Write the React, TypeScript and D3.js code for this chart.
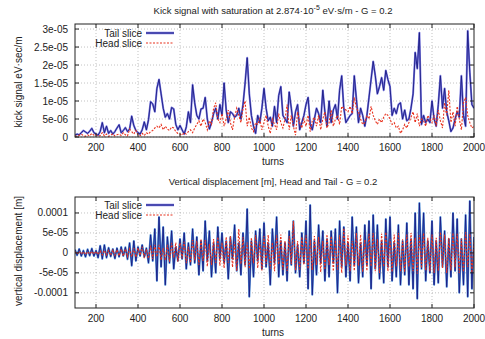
import React, { useEffect, useRef } from 'react';
import * as d3 from 'd3';

// turns sampled every 10 from 100 to 2000
const turns = d3.range(100, 2001, 10);

// kick signal, units of 1e-6 eV·s/m
const tailKick = [
  0.5, 0.8, 0.6, 1.2, 1.8, 1.4, 1.0, 1.6, 2.4, 1.2,
  0.8, 0.5, 1.5, 4.0, 1.2, 3.0, 1.0, 1.8, 0.8, 1.5,
  2.5, 3.4, 1.2, 1.8, 2.6, 1.5, 2.2, 5.8, 3.2, 1.8,
  1.2, 0.8, 2.0, 4.2, 2.0, 4.8, 9.8, 9.2, 7.0, 13.5,
  16.0, 12.0, 8.0, 5.5, 6.5, 5.0, 8.2, 7.8, 3.5, 2.0,
  3.2, 2.0, 0.8, 2.8, 7.0, 4.0, 14.5, 9.5, 6.0, 5.0,
  7.8, 8.0, 11.0, 5.0, 2.2, 4.0, 6.5, 8.0, 5.0, 9.0,
  6.0, 15.0, 7.5, 4.0, 7.0, 6.5, 5.5, 6.0, 8.0, 5.0,
  9.0, 15.0, 22.0, 12.0, 6.0, 3.0, 1.0, 6.0, 4.0, 8.0,
  13.5, 8.0, 4.5, 5.5, 3.0, 8.5, 4.0, 11.5, 14.0, 6.0,
  5.0, 4.0, 12.5, 8.0, 3.0, 7.0, 9.0, 2.0, 4.0, 6.0,
  9.0, 11.0, 3.5, 2.0, 5.0, 8.0, 6.5, 4.0, 13.0, 7.0,
  3.0, 10.0, 4.0, 7.5, 9.0, 5.0, 13.0, 17.0, 8.0, 4.0,
  5.0, 6.0, 6.5, 17.0, 10.5, 4.0, 8.0, 6.0, 3.0, 6.0,
  11.0, 16.0, 21.0, 17.0, 12.0, 14.0, 16.5, 13.0, 18.5, 16.0,
  14.0, 6.0, 8.0, 6.5, 9.0, 9.5, 5.0, 7.5, 4.5, 5.0,
  8.0, 12.0, 23.5, 19.0, 29.0, 3.5, 6.0, 4.0, 5.0, 4.0,
  10.0, 5.0, 3.0, 9.0, 17.0, 8.0, 13.5, 7.0, 4.5, 1.5,
  2.5, 5.0, 7.0, 5.5, 17.0, 6.0, 3.0, 29.5, 18.0, 9.0,
  8.0,
];

const headKick = [
  0.3, 0.2, 0.5, 0.8, 0.4, 0.2, 0.6, 0.3, 1.0, 0.5,
  0.6, 0.2, 0.4, 1.2, 0.3, 0.8, 0.2, 0.5, 0.9, 0.3,
  0.6, 0.8, 0.4, 1.2, 0.6, 0.3, 2.2, 1.5, 0.8, 1.8,
  0.6, 0.3, 1.0, 0.4, 1.2, 0.8, 1.5, 1.8, 2.5, 3.0,
  2.5, 3.5, 2.0, 3.0, 2.2, 1.8, 2.8, 2.5, 1.5, 1.0,
  0.8, 0.5, 1.2, 0.8, 1.5, 2.0, 1.2, 2.5, 3.5, 4.5,
  3.0, 5.0, 4.0, 2.0, 4.5, 3.5, 8.0, 9.5, 5.0, 4.0,
  6.5, 3.0, 5.0, 7.5, 4.0, 2.0, 5.5, 8.0, 6.0, 4.0,
  8.0, 10.0, 3.0, 5.5, 2.5, 1.5, 4.0, 3.5, 5.0, 2.0,
  4.0, 6.0, 3.0, 1.0, 5.0, 3.5, 2.0, 6.5, 4.0, 2.5,
  5.0, 9.0, 2.0, 6.0, 3.0, 0.5, 7.0, 4.0, 2.5, 5.0,
  3.0, 6.0, 1.5, 4.5, 5.5, 3.0, 6.0, 2.0, 5.0, 7.0,
  2.5, 4.0, 7.5, 3.0, 5.0, 6.0, 3.5, 8.5, 8.0, 7.5,
  7.0, 8.5, 6.5, 11.0, 8.0, 7.0, 5.0, 3.5, 4.0, 6.0,
  5.0, 8.5, 6.0, 4.5, 3.5, 5.0, 4.0, 5.5, 6.5, 6.0,
  5.0, 3.5, 4.0, 2.5, 3.0, 1.0, 2.0, 3.5, 2.5, 4.0,
  5.5, 7.0, 4.0, 6.5, 3.0, 5.0, 4.5, 3.0, 6.0, 5.0,
  4.0, 6.0, 3.0, 7.5, 4.5, 2.5, 9.5, 6.0, 13.0, 4.0,
  7.0, 3.0, 8.5, 5.0, 2.0, 9.5, 11.0, 6.0, 4.0, 2.5,
  3.0,
];

// vertical displacement, units of 1e-5 m
const tailDisp = [
  0.8, -0.6, 1.0, -0.8, 0.6, -1.0, 0.9, -0.7, 1.1, -0.8,
  0.6, -1.2, 1.8, -1.5, 2.0, -1.2, 1.3, -0.9, 1.0, -1.4,
  1.2, -1.0, 1.5, -0.8, 1.4, -1.6, 2.5, -3.2, 3.0, -2.0,
  1.5, -0.8, 2.0, -1.0, 1.2, -2.5, 4.5, -2.0, 6.0, -7.0,
  9.0, -3.5, 6.5, -8.0, 4.0, -2.5, 5.5, -4.0, 1.5, -2.0,
  3.5, -1.5, 5.0, -4.0, 2.5, -3.0, 6.0, -2.5, 4.0, -5.5,
  3.0, -4.5, 8.0, -2.0, 5.5, -6.0, 2.5, -5.0, 6.5, -1.5,
  5.0, -2.5, 3.0, -6.5, 4.0, -1.5, 7.0, -4.5, 2.5, -5.5,
  5.0, -3.0, 11.0, -11.0, 3.0, -6.0, 5.5, -2.0, 6.0, -4.0,
  7.5, -3.5, 2.5, -8.0, 6.0, -2.5, 9.0, -6.0, 3.0, -5.5,
  2.5, -7.0, 5.5, -3.0, 8.0, -5.0, 2.0, -6.0, 5.0, -2.5,
  8.0, -9.0, 12.0, -10.5, 3.0, -5.5, 7.0, -2.5, 5.5, -7.0,
  3.5, -6.0, 5.5, -2.5, 6.0, -10.0, 8.0, -3.5, 6.5, -6.0,
  2.5, -7.0, 9.0, -3.0, 6.5, -7.5, 2.5, -6.0, 7.0, -3.0,
  8.0, -9.0, 9.5, -4.0, 7.0, -6.5, 3.0, -7.5, 8.5, -3.5,
  9.0, -7.0, 2.5, -6.0, 7.0, -8.0, 3.0, -5.5, 7.5, -8.0,
  3.5, -9.0, 10.0, -11.5, 12.5, -4.0, 10.0, -7.0, 3.0, -5.0,
  8.0, -8.0, 3.0, -7.5, 9.0, -3.5, 5.5, -8.5, 3.5, -6.0,
  10.0, -4.5, 8.5, -10.0, 3.5, -8.0, 9.5, -11.0, 13.0, -9.0,
  4.0,
];

const headDisp = [
  0.3, -0.3, 0.4, -0.3, 0.3, -0.4, 0.3, -0.3, 0.4, -0.3,
  0.4, -0.4, 0.5, -0.5, 0.6, -0.5, 0.6, -0.6, 0.7, -0.6,
  0.8, -0.7, 0.9, -0.8, 1.0, -0.9, 1.0, -1.0, 1.2, -1.1,
  1.2, -0.6, 1.5, -1.3, 0.9, -1.4, 1.8, -1.5, 2.0, -1.0,
  2.0, -1.8, 1.2, -1.9, 2.0, -2.2, 2.5, -1.2, 2.6, -2.2,
  2.5, -1.4, 2.8, -2.6, 1.5, -2.5, 3.2, -1.8, 3.0, -3.0,
  3.5, -2.0, 3.2, -3.4, 2.2, -3.0, 3.5, -2.5, 4.0, -3.2,
  2.6, -3.8, 4.0, -2.5, 4.2, -3.6, 2.8, -4.5, 6.0, -2.8,
  4.0, -3.6, 2.6, -4.0, 3.8, -2.6, 4.5, -3.8, 2.8, -4.4,
  4.2, -2.8, 4.5, -4.0, 2.6, -4.6, 4.4, -2.9, 4.6, -4.2,
  3.0, -4.5, 4.2, -2.8, 8.0, -4.4, 3.0, -4.2, 4.0, -3.0,
  4.4, -4.0, 3.2, -4.3, 4.2, -3.0, 4.0, -4.8, 3.0, -4.2,
  4.6, -3.0, 4.2, -4.6, 3.2, -4.2, 4.5, -5.0, 6.2, -3.2,
  4.4, -4.6, 3.0, -4.5, 5.0, -3.2, 4.6, -4.8, 3.3, -4.5,
  4.8, -3.4, 5.0, -4.6, 3.4, -5.0, 4.8, -3.5, 5.2, -4.6,
  3.5, -4.8, 4.6, -3.4, 5.0, -4.6, 3.4, -4.8, 4.6, -3.5,
  5.0, -4.6, 3.8, -5.2, 4.5, -3.8, 5.0, -4.4, 3.8, -4.6,
  4.6, -5.0, 3.8, -4.5, 5.2, -3.8, 4.6, -5.0, 3.8, -4.4,
  5.0, -3.6, 4.8, -5.0, 3.6, -4.8, 5.2, -3.5, 4.8, -5.0,
  3.0,
];

const xTicks = [200, 400, 600, 800, 1000, 1200, 1400, 1600, 1800, 2000];
const kickTicks = [0, 5e-6, 1e-5, 1.5e-5, 2e-5, 2.5e-5, 3e-5];
const kickTickLabels = ['0', '5e-06', '1e-05', '1.5e-05', '2e-05', '2.5e-05', '3e-05'];
const dispTicks = [-1e-4, -5e-5, 0, 5e-5, 1e-4];
const dispTickLabels = ['-0.0001', '-5e-05', '0', '5e-05', '0.0001'];

const FONT = 'Liberation Sans, Arial, sans-serif';
const TAIL = '#1b1b82';
const TAIL_LIGHT = '#4f8fd8';
const HEAD = '#e8321e';

const App = () => {
  const ref = useRef<SVGSVGElement>(null);

  useEffect(() => {
    const svg = d3.select(ref.current);
    svg.selectAll('*').remove();
    svg.append('rect').attr('width', 485).attr('height', 339).attr('fill', '#fff');

    const x = d3.scaleLinear().domain([100, 2000]).range([75, 474]);

    const drawPanel = (opts: any) => {
      const { y, ticks, tickLabels, top, bottom, title, titleY, yLabel, yLabelY, tail, head, scale, legendY, tailWide, tailLight } = opts;
      const g = svg.append('g');

      // grid
      xTicks.forEach(t => {
        if (t === 2000) return;
        g.append('line').attr('x1', x(t)).attr('x2', x(t)).attr('y1', top).attr('y2', bottom)
          .attr('stroke', '#999').attr('stroke-width', 0.6).attr('stroke-dasharray', '1,2');
      });
      ticks.forEach((t: number) => {
        g.append('line').attr('x1', 75).attr('x2', 474).attr('y1', y(t)).attr('y2', y(t))
          .attr('stroke', '#999').attr('stroke-width', 0.6).attr('stroke-dasharray', '1,2');
      });

      const line = d3.line<number>().x((_, i) => x(turns[i])).y(d => y(d * scale));

      const clipId = 'clip' + top;
      svg.append('clipPath').attr('id', clipId).append('rect')
        .attr('x', 75).attr('y', top).attr('width', 399).attr('height', bottom - top);
      const plot = g.append('g').attr('clip-path', `url(#${clipId})`);

      plot.append('path').attr('d', line(tail)).attr('fill', 'none')
        .attr('stroke', tailLight).attr('stroke-width', tailWide).attr('stroke-linejoin', 'round');
      plot.append('path').attr('d', line(tail)).attr('fill', 'none')
        .attr('stroke', TAIL).attr('stroke-width', 0.9);
      plot.append('path').attr('d', line(head)).attr('fill', 'none')
        .attr('stroke', HEAD).attr('stroke-width', 1.1).attr('stroke-dasharray', '2,1.5');

      // frame and mirrored ticks
      g.append('rect').attr('x', 75).attr('y', top).attr('width', 399).attr('height', bottom - top)
        .attr('fill', 'none').attr('stroke', '#222').attr('stroke-width', 1);
      xTicks.forEach(t => {
        g.append('line').attr('x1', x(t)).attr('x2', x(t)).attr('y1', bottom).attr('y2', bottom - 4).attr('stroke', '#222');
        g.append('line').attr('x1', x(t)).attr('x2', x(t)).attr('y1', top).attr('y2', top + 4).attr('stroke', '#222');
        g.append('text').attr('x', x(t)).attr('y', bottom + 14).attr('text-anchor', 'middle')
          .attr('font-family', FONT).attr('font-size', 10).attr('fill', '#222').text(t);
      });
      ticks.forEach((t: number, i: number) => {
        g.append('line').attr('x1', 75).attr('x2', 79).attr('y1', y(t)).attr('y2', y(t)).attr('stroke', '#222');
        g.append('line').attr('x1', 474).attr('x2', 470).attr('y1', y(t)).attr('y2', y(t)).attr('stroke', '#222');
        g.append('text').attr('x', 68).attr('y', y(t) + 3.5).attr('text-anchor', 'end')
          .attr('font-family', FONT).attr('font-size', 10).attr('fill', '#222').text(tickLabels[i]);
      });

      // axis titles
      g.append('text').attr('x', 273).attr('y', bottom + 28).attr('text-anchor', 'middle')
        .attr('font-family', FONT).attr('font-size', 10).attr('fill', '#222').text('turns');
      g.append('text').attr('transform', `translate(22, ${yLabelY}) rotate(-90)`).attr('text-anchor', 'middle')
        .attr('font-family', FONT).attr('font-size', 10).attr('fill', '#222').text(yLabel);

      // title
      const tt = g.append('text').attr('x', 273).attr('y', titleY).attr('text-anchor', 'middle')
        .attr('font-family', FONT).attr('font-size', 9.5).attr('fill', '#222');
      title(tt);

      // legend
      const leg = g.append('g').attr('font-family', FONT).attr('font-size', 10).attr('fill', '#222');
      leg.append('text').attr('x', 142).attr('y', legendY + 3.5).attr('text-anchor', 'end').text('Tail slice');
      leg.append('line').attr('x1', 146).attr('x2', 174).attr('y1', legendY).attr('y2', legendY)
        .attr('stroke', '#7a7ae0').attr('stroke-width', 2.5);
      leg.append('line').attr('x1', 146).attr('x2', 174).attr('y1', legendY).attr('y2', legendY)
        .attr('stroke', TAIL).attr('stroke-width', 1);
      leg.append('text').attr('x', 142).attr('y', legendY + 13.5).attr('text-anchor', 'end').text('Head slice');
      leg.append('line').attr('x1', 146).attr('x2', 174).attr('y1', legendY + 10).attr('y2', legendY + 10)
        .attr('stroke', HEAD).attr('stroke-width', 1.1).attr('stroke-dasharray', '2,1.5');
    };

    drawPanel({
      y: d3.scaleLinear().domain([0, 3.14e-5]).range([137, 24]),
      ticks: kickTicks,
      tickLabels: kickTickLabels,
      top: 24,
      bottom: 137,
      titleY: 14,
      title: (t: any) => {
        t.append('tspan').text('Kick signal with saturation at 2.874·10');
        t.append('tspan').attr('font-size', 7).attr('dy', -4).text('-5');
        t.append('tspan').attr('dy', 4).text(' eV·s/m - G = 0.2');
      },
      yLabel: 'kick signal eV·sec/m',
      yLabelY: 82,
      tail: tailKick,
      head: headKick,
      scale: 1e-6,
      legendY: 33,
      tailWide: 2.0,
      tailLight: '#7a7ae0',
    });

    drawPanel({
      y: d3.scaleLinear().domain([-1.38e-4, 1.4e-4]).range([308, 197]),
      ticks: dispTicks,
      tickLabels: dispTickLabels,
      top: 197,
      bottom: 308,
      titleY: 185,
      title: (t: any) => t.text('Vertical displacement [m], Head and Tail - G = 0.2'),
      yLabel: 'vertical displacement [m]',
      yLabelY: 251,
      tail: tailDisp,
      head: headDisp,
      scale: 1e-5,
      legendY: 205,
      tailWide: 2.0,
      tailLight: TAIL_LIGHT,
    });
  }, []);

  return <svg ref={ref} width={485} height={339} style={{ position: 'absolute', left: 0, top: 0 }} />;
};

export default App;
